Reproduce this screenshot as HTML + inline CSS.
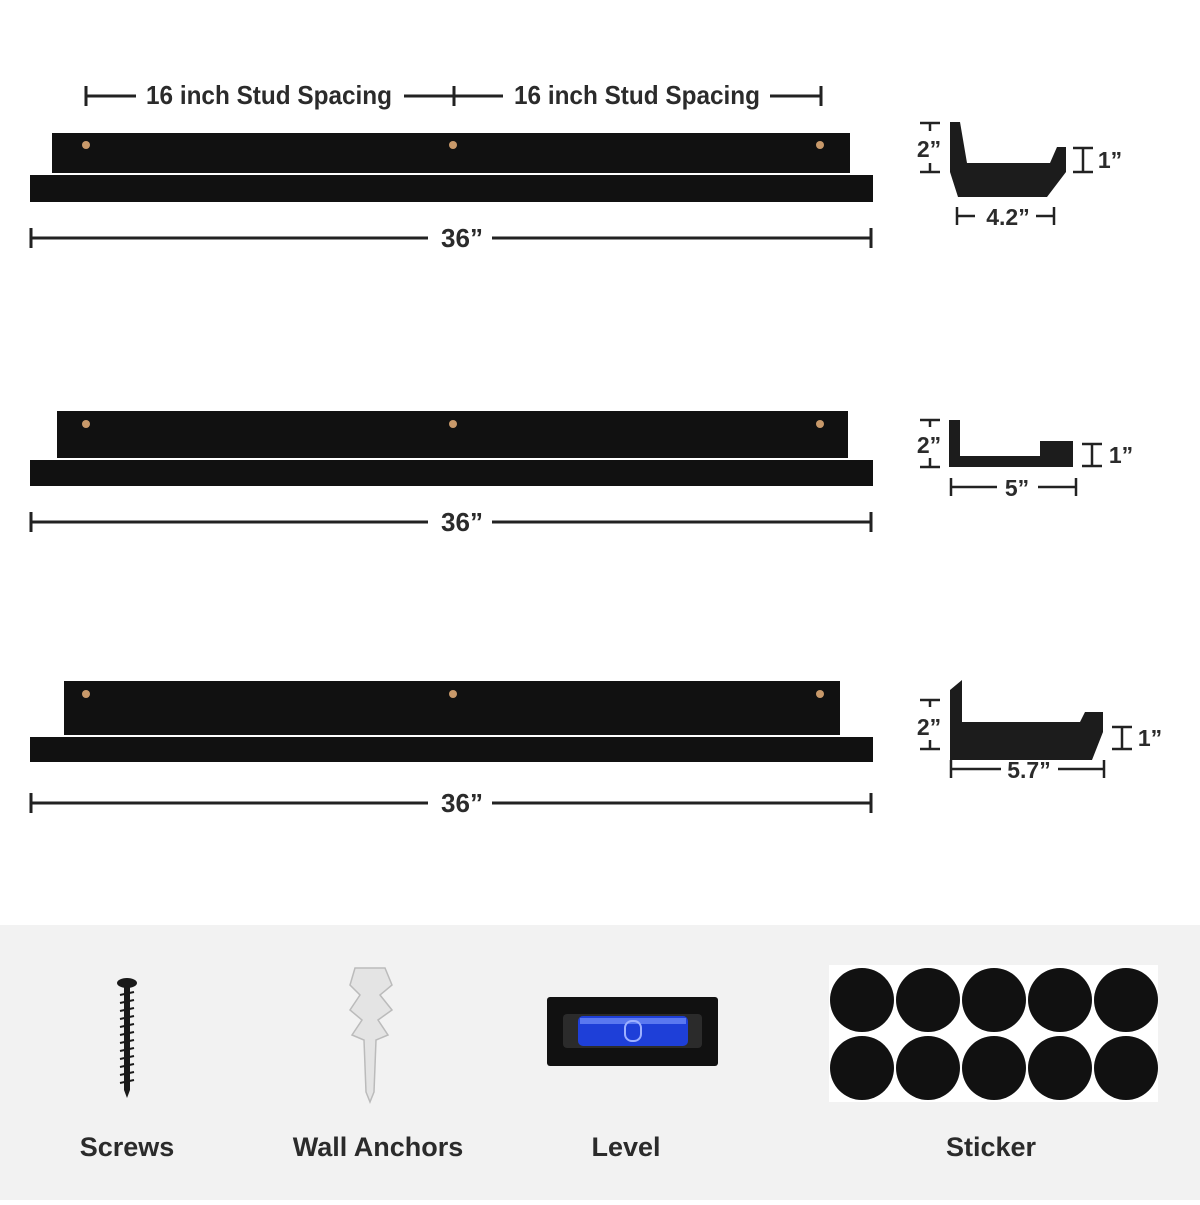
<!DOCTYPE html>
<html><head><style>
body{margin:0;background:#fff}
svg text{font-family:"Liberation Sans",sans-serif;font-weight:bold;fill:#2b2b2b}
</style></head><body>
<svg width="1200" height="1200" viewBox="0 0 1200 1200" xmlns="http://www.w3.org/2000/svg">
<rect x="0" y="925" width="1200" height="275" fill="#f2f2f2"/>
<g stroke="#222" stroke-width="3" fill="none">
<line x1="86" y1="86" x2="86" y2="106"/><line x1="86" y1="96" x2="136" y2="96"/>
<line x1="404" y1="96" x2="503" y2="96"/><line x1="454" y1="86" x2="454" y2="106"/>
<line x1="770" y1="96" x2="821" y2="96"/><line x1="821" y1="86" x2="821" y2="106"/>
<line x1="31" y1="228" x2="31" y2="248"/><line x1="31" y1="238" x2="428" y2="238"/><line x1="492" y1="238" x2="871" y2="238"/><line x1="871" y1="228" x2="871" y2="248"/>
<line x1="31" y1="512" x2="31" y2="532"/><line x1="31" y1="522" x2="428" y2="522"/><line x1="492" y1="522" x2="871" y2="522"/><line x1="871" y1="512" x2="871" y2="532"/>
<line x1="31" y1="793" x2="31" y2="813"/><line x1="31" y1="803" x2="428" y2="803"/><line x1="492" y1="803" x2="871" y2="803"/><line x1="871" y1="793" x2="871" y2="813"/>
</g>
<g font-size="26">
<text x="146" y="104" textLength="246" lengthAdjust="spacingAndGlyphs">16 inch Stud Spacing</text>
<text x="514" y="104" textLength="246" lengthAdjust="spacingAndGlyphs">16 inch Stud Spacing</text>
<text x="462" y="247" text-anchor="middle">36”</text>
<text x="462" y="531" text-anchor="middle">36”</text>
<text x="462" y="812" text-anchor="middle">36”</text>
</g>
<g fill="#111">
<rect x="52" y="133" width="798" height="40"/><rect x="30" y="175" width="843" height="27"/>
<rect x="57" y="411" width="791" height="47"/><rect x="30" y="460" width="843" height="26"/>
<rect x="64" y="681" width="776" height="54"/><rect x="30" y="737" width="843" height="25"/>
</g>
<g fill="#c8996a">
<circle cx="86" cy="145" r="4"/><circle cx="453" cy="145" r="4"/><circle cx="820" cy="145" r="4"/>
<circle cx="86" cy="424" r="4"/><circle cx="453" cy="424" r="4"/><circle cx="820" cy="424" r="4"/>
<circle cx="86" cy="694" r="4"/><circle cx="453" cy="694" r="4"/><circle cx="820" cy="694" r="4"/>
</g>
<g fill="#1c1c1c">
<polygon points="950,122 960,122 967,163 1050,163 1057,147 1066,147 1066,172 1047,197 958,197 950,172"/>
<polygon points="949,420 960,420 960,456 1040,456 1040,441 1073,441 1073,467 949,467"/>
<polygon points="950,690 962,680 962,722 1080,722 1085,712 1103,712 1103,732 1092,760 950,760"/>
</g>
<g stroke="#222" stroke-width="2.5" fill="none">
<path d="M920 123h20M930 123v8M930 163v9M920 172h20"/>
<path d="M1073 148h20M1083 148v24M1073 172h20"/>
<path d="M957 207v18M957 216h18M1036 216h18M1054 207v18"/>
<path d="M920 420h20M930 420v7M930 458v9M920 467h20"/>
<path d="M1082 444h20M1092 444v22M1082 466h20"/>
<path d="M951 478v18M951 487h46M1038 487h38M1076 478v18"/>
<path d="M920 700h20M930 700v7M930 740v9M920 749h20"/>
<path d="M1112 727h20M1122 727v22M1112 749h20"/>
<path d="M951 760v18M951 769h50M1058 769h46M1104 760v18"/>
</g>
<g font-size="23">
<text x="929" y="157" text-anchor="middle">2”</text><text x="1110" y="168" text-anchor="middle">1”</text><text x="1008" y="225" text-anchor="middle">4.2”</text>
<text x="929" y="453" text-anchor="middle">2”</text><text x="1121" y="463" text-anchor="middle">1”</text><text x="1017" y="496" text-anchor="middle">5”</text>
<text x="929" y="735" text-anchor="middle">2”</text><text x="1150" y="746" text-anchor="middle">1”</text><text x="1029" y="778" text-anchor="middle">5.7”</text>
</g>
<g fill="#1a1a1a">
<ellipse cx="127" cy="983" rx="10" ry="5"/>
<rect x="124" y="985" width="6" height="105"/>
<path d="M127 1090 L124 1090 L127 1098 L130 1090Z"/>
<g stroke="#1a1a1a" stroke-width="2">
<path d="M120 995l14 -3M120 1003l14 -3M120 1011l14 -3M120 1019l14 -3M120 1027l14 -3M120 1035l14 -3M120 1043l14 -3M120 1051l14 -3M120 1059l14 -3M120 1067l14 -3M120 1075l14 -3M120 1083l14 -3"/>
</g></g>
<g fill="#e4e4e4" stroke="#bbb" stroke-width="1.5">
<polygon points="355,968 385,968 392,985 380,995 392,1010 378,1020 388,1035 376,1040 374,1092 370,1102 366,1092 364,1040 352,1035 362,1020 350,1010 360,995 350,985"/>
</g>
<rect x="547" y="997" width="171" height="69" rx="3" fill="#111"/>
<rect x="563" y="1014" width="139" height="34" rx="4" fill="#2b2b2b"/>
<rect x="578" y="1016" width="110" height="30" rx="5" fill="#1e3fd8"/>
<rect x="580" y="1018" width="106" height="6" fill="#5a78f0"/>
<rect x="625" y="1021" width="16" height="20" rx="7" fill="none" stroke="#9db0ff" stroke-width="2"/>
<rect x="829" y="965" width="329" height="137" fill="#fff"/>
<g fill="#111">
<circle cx="862" cy="1000" r="32"/><circle cx="928" cy="1000" r="32"/><circle cx="994" cy="1000" r="32"/><circle cx="1060" cy="1000" r="32"/><circle cx="1126" cy="1000" r="32"/>
<circle cx="862" cy="1068" r="32"/><circle cx="928" cy="1068" r="32"/><circle cx="994" cy="1068" r="32"/><circle cx="1060" cy="1068" r="32"/><circle cx="1126" cy="1068" r="32"/>
</g>
<g font-size="27">
<text x="127" y="1156" text-anchor="middle">Screws</text>
<text x="378" y="1156" text-anchor="middle">Wall Anchors</text>
<text x="626" y="1156" text-anchor="middle">Level</text>
<text x="991" y="1156" text-anchor="middle">Sticker</text>
</g>
</svg>
</body></html>
